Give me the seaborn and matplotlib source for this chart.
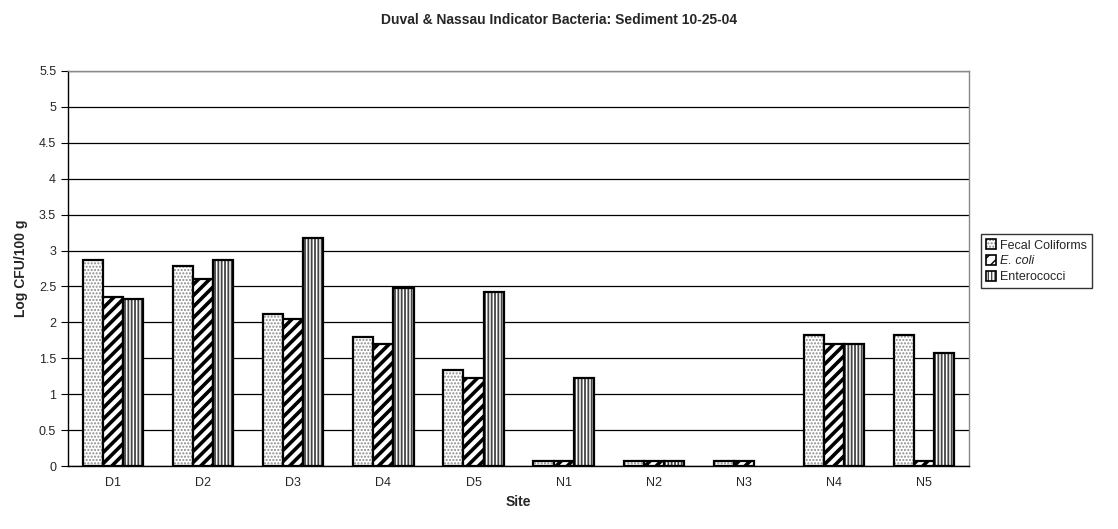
import matplotlib
matplotlib.use("Agg")
import matplotlib.pyplot as plt
import seaborn as sns
import pandas as pd
import numpy as np
from matplotlib.patches import Patch

# -----------------------------
# Data
# -----------------------------
sites = ["D1", "D2", "D3", "D4", "D5", "N1", "N2", "N3", "N4", "N5"]
fecal_coliforms = [2.87, 2.78, 2.12, 1.79, 1.34, 0.07, 0.07, 0.07, 1.82, 1.82]
e_coli = [2.35, 2.60, 2.04, 1.70, 1.23, 0.07, 0.07, 0.07, 1.70, 0.07]
enterococci = [2.32, 2.87, 3.18, 2.48, 2.42, 1.22, 0.07, np.nan, 1.70, 1.57]
series = ["Fecal Coliforms", "E. coli", "Enterococci"]

df = pd.DataFrame({
    "Site": sites * 3,
    "Value": fecal_coliforms + e_coli + enterococci,
    "Series": [s for s in series for _ in sites],
})

sns.set_style("white")
plt.rcParams["font.family"] = ["Liberation Sans", "DejaVu Sans"]

fig = plt.figure(figsize=(11.18, 5.29), dpi=100)
ax = fig.add_axes([0.0608, 0.119, 0.806, 0.747])

sns.barplot(
    data=df, x="Site", y="Value", hue="Series",
    palette=["white", "white", "white"], width=0.67, gap=0,
    edgecolor="black", linewidth=1.6, errorbar=None, ax=ax,
    legend=False
)

# hatch styles per series
hatches = [".....", "///", "|||||"]
hatch_colors = ["#8a8a8a", "black", "#444444"]
hatch_widths = [1.0, 2.6, 1.3]


def style_patch(p, k):
    p.set_hatch(hatches[k])
    p.set_facecolor("white")
    p._hatch_color = matplotlib.colors.to_rgba(hatch_colors[k])
    if hasattr(p, "set_hatch_linewidth"):
        p.set_hatch_linewidth(hatch_widths[k])
    else:
        p._hatch_linewidth = hatch_widths[k]


n = len(sites)
for i, bar in enumerate(ax.patches[: 3 * n]):
    style_patch(bar, i // n)

# -----------------------------
# Axes styling
# -----------------------------
yticks = np.arange(0, 5.51, 0.5)
ax.set_ylim(0, 5.5)
ax.set_xlim(-0.5, n - 0.5)
ax.set_yticks(yticks)
ax.set_yticklabels([f"{v:g}" for v in yticks], fontsize=9)
ax.yaxis.grid(True, color="black", linewidth=0.9)
ax.set_axisbelow(True)

ax.set_xticks(range(n))
ax.set_xticklabels(sites, fontsize=9)
ax.set_xticks(np.arange(-0.5, n, 1), minor=True)
ax.tick_params(axis="x", which="major", length=0, pad=8)
ax.tick_params(axis="x", which="minor", length=5, direction="out", color="black")
ax.tick_params(axis="y", length=5, direction="out", color="black", left=True)

for side in ["left", "bottom"]:
    ax.spines[side].set_color("black")
    ax.spines[side].set_linewidth(1)
for side in ["top", "right"]:
    ax.spines[side].set_color("#888888")
    ax.spines[side].set_linewidth(1)

ax.set_xlabel("Site", fontsize=10, fontweight="bold", labelpad=4)
ax.set_ylabel("Log CFU/100 g", fontsize=10, fontweight="bold", labelpad=8)
fig.suptitle("Duval & Nassau Indicator Bacteria: Sediment 10-25-04",
             fontsize=10, fontweight="bold", y=0.975)

# -----------------------------
# Legend
# -----------------------------
handles = []
for k, s in enumerate(series):
    h = Patch(facecolor="white", edgecolor="black", linewidth=1.2, label=s)
    style_patch(h, k)
    handles.append(h)

leg = fig.legend(handles=handles, loc="center left", bbox_to_anchor=(0.872, 0.506),
                 fontsize=9, frameon=True, fancybox=False, edgecolor="black",
                 handlelength=0.8, handleheight=0.8, handletextpad=0.3,
                 borderpad=0.4, labelspacing=0.3)
leg.get_frame().set_linewidth(1)
leg.get_texts()[1].set_fontstyle("italic")

fig.savefig("out.png", dpi=100)
